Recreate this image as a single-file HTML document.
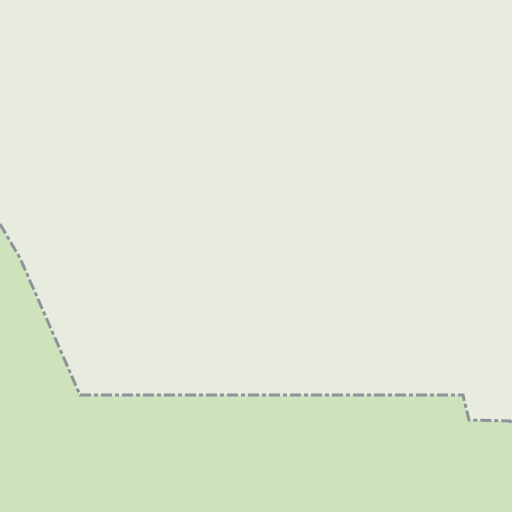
<!DOCTYPE html>
<html><head><meta charset="utf-8"><style>
html,body{margin:0;padding:0;width:512px;height:512px;overflow:hidden;background:#e8ecdf}
</style></head><body>
<svg width="512" height="512" viewBox="0 0 512 512">
<rect x="0" y="0" width="512" height="512" fill="#e8ecdf"/>
<path d="M0,224 L20,258 L80,395 L463,395 L469,420 L510,421 L512,423 L512,512 L0,512 Z" fill="#cee2bb"/>
<path d="M0,224 L20,258 L80,395 L463,395 L469,420 L510,421 L512,423" fill="none" stroke="#8d939a" stroke-width="3" stroke-dasharray="11,3,4,3"/>
</svg>
</body></html>
